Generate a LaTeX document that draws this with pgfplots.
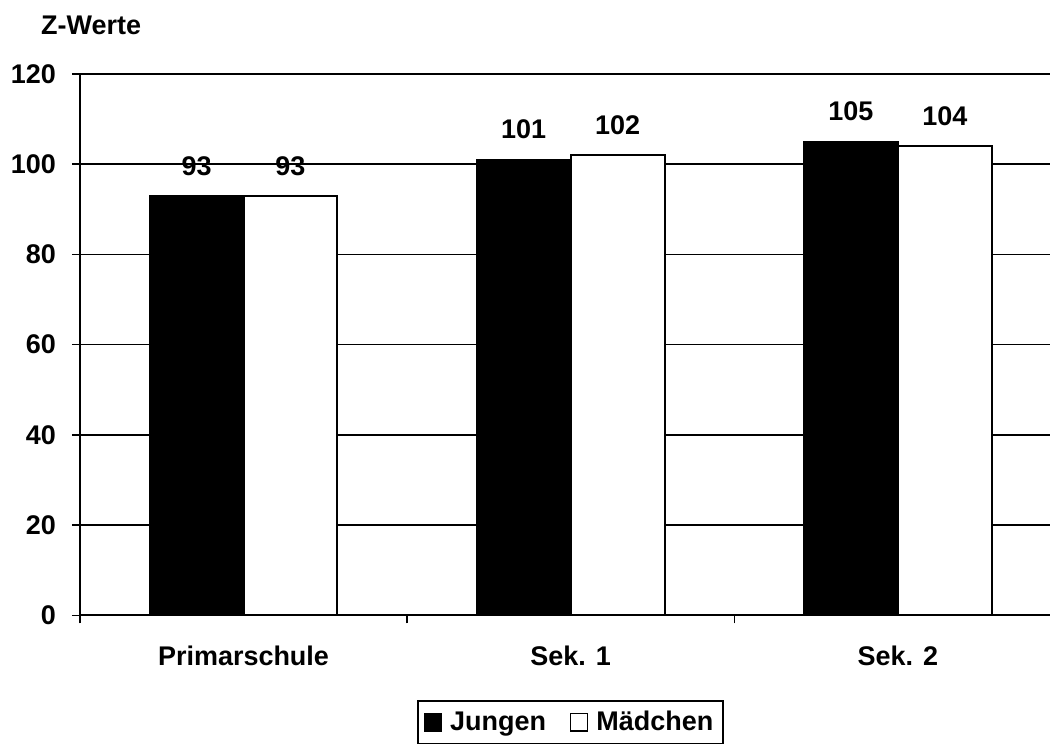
\documentclass[border=0pt]{standalone}
\usepackage{pgfplots}
\pgfplotsset{compat=1.18}
\usepackage{fontspec}
\setmainfont{Liberation Sans}

\pgfplotstableread{
x jungen maedchen
0 93  93
1 101 102
2 105 104
}\zwerte

\newcommand{\lbl}{\fontsize{13.5}{16}\selectfont\bfseries}

\begin{document}
\begin{tikzpicture}
\begin{axis}[
    at={(0,0)}, anchor=south west,
    scale only axis,
    width=485.5pt, height=271pt,
    ybar=0pt, bar width=47pt,
    xmin=-0.5, xmax=2.4649,
    ymin=0, ymax=120,
    ytick={0,20,...,120},
    xtick={-0.5,0.5,1.5,2.5},
    xticklabels={},
    extra x ticks={0,1,2},
    extra x tick labels={Primarschule,Sek. 1,Sek. 2},
    extra x tick style={major tick length=0pt, grid=none,
        xticklabel style={yshift=-12pt}},
    axis lines=left,
    axis line style={-, line width=1pt},
    tick align=outside,
    major tick length=4pt,
    tick style={black, line width=0.8pt},
    ymajorgrids,
    grid style={black, line width=0.7pt},
    ticklabel style={font=\lbl},
    yticklabel style={xshift=-4.5pt},
    /pgf/number format/assume math mode=true,
    nodes near coords,
    every node near coord/.append style={font=\lbl, yshift=6.4pt},
    clip=false,
    legend columns=2,
    legend style={at={(0.5057,-0.1568)}, anchor=north, draw=black,
        line width=0.8pt, font=\lbl, inner sep=3pt,
        /tikz/every odd column/.append style={column sep=2pt},
        /tikz/every even column/.append style={column sep=10pt}},
    legend image code/.code={\draw[#1, line width=0.6pt] (0pt,-4.3pt) rectangle (8.6pt,4.3pt);},
]
\addplot[fill=black, draw=black, line width=1pt] table[x=x, y=jungen] {\zwerte};
\addplot[fill=white, draw=black, line width=1pt] table[x=x, y=maedchen] {\zwerte};
\legend{Jungen, Mädchen}
\node[font=\lbl] at (axis cs:-0.466,130.8) {Z-Werte};
\end{axis}
\useasboundingbox (-40pt,-63pt) rectangle (485.5pt,308pt);
\end{tikzpicture}
\end{document}
